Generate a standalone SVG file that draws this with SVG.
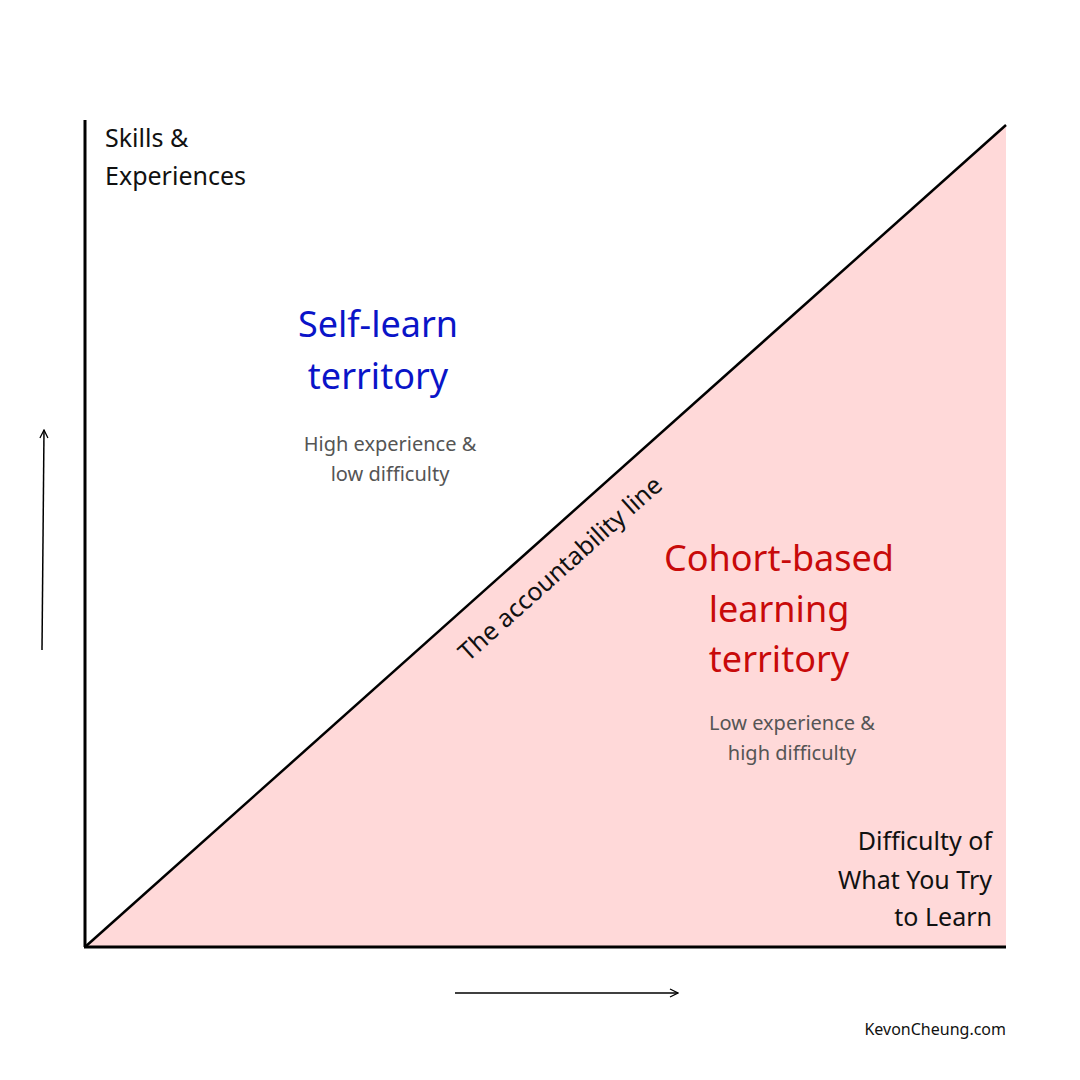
<svg xmlns="http://www.w3.org/2000/svg" width="1080" height="1080" viewBox="0 0 1080 1080">
<style>
text{font-family:"Noto Sans","Open Sans",sans-serif}
.k{fill:#111;font-size:25px}
.sub{fill:#555;font-size:20px}
.big{font-size:36px}
.ln{stroke:#000;fill:none}
</style>
<defs><marker id="a" viewBox="0 0 10 10" refX="9" refY="5" markerWidth="10" markerHeight="10" markerUnits="userSpaceOnUse" orient="auto"><path d="M1 1L9 5L1 9" fill="none" stroke="#000" stroke-width="1.3"/></marker></defs>
<rect width="1080" height="1080" fill="#fff"/>
<polygon points="85,947 1006,125 1006,947" fill="#FFD9D9"/>
<g id="connectors">
<line class="ln" x1="85" y1="120" x2="85" y2="947" stroke-width="3"/>
<line class="ln" x1="84" y1="947" x2="1006" y2="947" stroke-width="3"/>
<line class="ln" x1="85" y1="947" x2="1006" y2="125" stroke-width="2.5"/>
<line class="ln" x1="42" y1="650" x2="44" y2="430" stroke-width="1.5" marker-end="url(#a)"/>
<line class="ln" x1="455" y1="993" x2="678" y2="993" stroke-width="1.5" marker-end="url(#a)"/>
</g>
<g id="yaxis"><text class="k" x="105" y="147">Skills &amp;</text><text class="k" x="105" y="185">Experiences</text></g>
<g id="xaxis" text-anchor="end"><text class="k" x="992" y="850">Difficulty of</text><text class="k" x="992" y="889">What You Try</text><text class="k" x="992" y="926">to Learn</text></g>
<g id="self" text-anchor="middle"><text class="big" x="378" y="337" fill="#0A14C8">Self-learn</text><text class="big" x="378" y="389" fill="#0A14C8">territory</text><text class="sub" x="390" y="451">High experience &amp;</text><text class="sub" x="390" y="481">low difficulty</text></g>
<g id="cohort" text-anchor="middle"><text class="big" x="779" y="571" fill="#C80A0A">Cohort-based</text><text class="big" x="779" y="622" fill="#C80A0A">learning</text><text class="big" x="779" y="672" fill="#C80A0A">territory</text><text class="sub" x="792" y="730">Low experience &amp;</text><text class="sub" x="792" y="760">high difficulty</text></g>
<text class="k" x="0" y="0" text-anchor="middle" transform="translate(566,575) rotate(-41.75)" font-size="27">The accountability line</text>
<text x="1006" y="1035" text-anchor="end" font-size="16" fill="#111">KevonCheung.com</text>
</svg>
